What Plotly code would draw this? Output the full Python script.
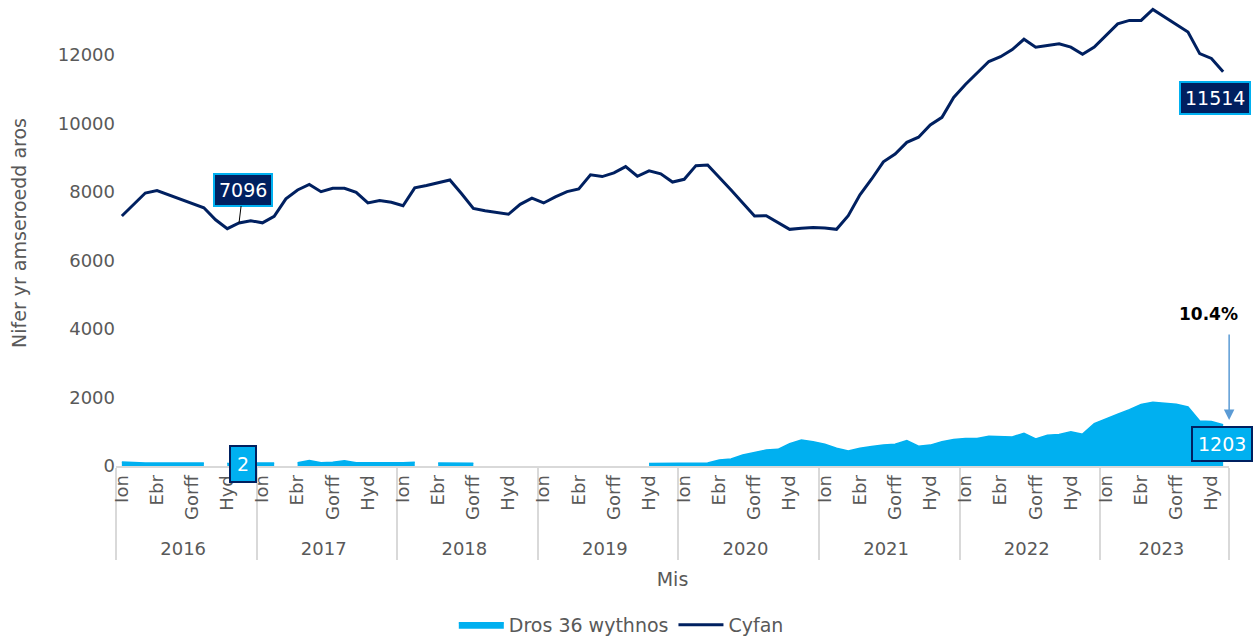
import plotly.graph_objects as go

years = ["2016", "2017", "2018", "2019", "2020", "2021", "2022", "2023"]
month_labels = ["Ion", "\u200b", "\u200b\u200b", "Ebr", "\u200b\u200b\u200b", "\u200b\u200b\u200b\u200b",
                "Gorff", "\u200b\u200b\u200b\u200b\u200b", "\u200b\u200b\u200b\u200b\u200b\u200b", "Hyd",
                "\u200b\u200b\u200b\u200b\u200b\u200b\u200b", "\u200b\u200b\u200b\u200b\u200b\u200b\u200b\u200b"]
n_months = 95  # Jan 2016 - Nov 2023

cyfan = [7300, 7640, 7970, 8040, 7910, 7780, 7650, 7540, 7190, 6930,
         7096, 7160, 7100, 7290, 7800, 8060, 8220, 8010, 8110, 8110,
         7990, 7680, 7750, 7700, 7600, 8120, 8190, 8280, 8350, 7950,
         7520, 7450, 7400, 7350, 7640, 7820, 7680, 7860, 8010, 8090,
         8500, 8450, 8560, 8740, 8460, 8620, 8530, 8290, 8370, 8770,
         8790, 8440, 8060, 7680, 7300, 7310, 7110, 6910, 6940, 6960,
         6950, 6910, 7310, 7920, 8380, 8880, 9110, 9450, 9600, 9960,
         10180, 10760, 11140, 11490, 11810, 11950, 12160, 12460, 12230, 12280,
         12330, 12230, 12020, 12230, 12570, 12910, 13010, 13010, 13330, 13110,
         12870, 12670, 12040, 11900, 11514]

dros36 = [120, 95, 90, 90, 88, 85, 85, 85, None,
          80, 2, 85, 90, 85, None,
          95, 160, 95, 110, 150, 95, 95, 90, 90, 95, 110, None,
          90, 85, 85, 80,
          None, None, None, None, None, None, None, None, None, None, None, None, None, None,
          75, 75, 75, 80, 85, 90, 175, 205, 320, 400,
          467, 487, 650, 760, 710, 634, 517, 440, 517, 566,
          614, 635, 745, 580, 610, 705, 775, 805, 805, 870,
          870, 850, 958, 792, 900, 920, 996, 930, 1240, 1384,
          1510, 1646, 1800, 1858, 1838, 1800, 1722, 1316, 1297, 1203]

x_year = [years[i // 12] for i in range(n_months)]
x_month = [month_labels[i % 12] for i in range(n_months)]

NAVY = "#002060"
CYAN = "#00B0F0"
FONT = "DejaVu Sans"
GREY = "#595959"
FS = 18

fig = go.Figure()

fig.add_trace(go.Scatter(
    x=[x_year, x_month], y=cyfan, name="Cyfan", legendrank=2,
    mode="lines", line=dict(color=NAVY, width=3),
))

runs, cur = [], []
for i, v in enumerate(dros36):
    if v is None:
        if cur:
            runs.append(cur)
        cur = []
    else:
        cur.append(i)
if cur:
    runs.append(cur)

for k, run in enumerate(runs):
    fig.add_trace(go.Scatter(
        x=[[x_year[i] for i in run], [x_month[i] for i in run]],
        y=[dros36[i] for i in run], name="Dros 36 wythnos",
        legendgroup="dros", showlegend=(k == 0), legendrank=1,
        mode="lines", fill="tozeroy", fillcolor=CYAN,
        line=dict(color=CYAN, width=1.5),
    ))

last = n_months - 1
fig.add_annotation(x=10, y=cyfan[10], text=str(cyfan[10]), showarrow=True,
                   ax=4, ay=-33, arrowhead=0, arrowwidth=1, arrowcolor="black",
                   bgcolor=NAVY, bordercolor=CYAN, borderwidth=2, borderpad=4,
                   font=dict(color="white", size=19, family=FONT))
fig.add_annotation(x=last, y=cyfan[last], text=str(cyfan[last]), showarrow=False,
                   xshift=-8, yshift=-26,
                   bgcolor=NAVY, bordercolor=CYAN, borderwidth=2, borderpad=4,
                   font=dict(color="white", size=19, family=FONT))
fig.add_annotation(x=10, y=dros36[10], text=str(dros36[10]), showarrow=False,
                   xshift=4, yshift=2,
                   bgcolor=CYAN, bordercolor=NAVY, borderwidth=2, borderpad=6,
                   font=dict(color="white", size=19, family=FONT))
fig.add_annotation(x=last, y=dros36[last], text=str(dros36[last]), showarrow=False,
                   xshift=-1, yshift=-19,
                   bgcolor=CYAN, bordercolor=NAVY, borderwidth=2, borderpad=5,
                   font=dict(color="white", size=19, family=FONT))
share = round(100 * dros36[last] / cyfan[last], 1)
fig.add_annotation(x=last, y=1340, text="", showarrow=True, xshift=6,
                   ax=0, ay=-87, arrowhead=2, arrowsize=1.4, arrowwidth=1.5,
                   arrowcolor="#5B9BD5")
fig.add_annotation(x=last, y=4440, text=f"<b>{share}%</b>", showarrow=False,
                   xshift=-15, font=dict(color="black", size=17, family=FONT))

fig.update_layout(
    width=1254, height=637,
    margin=dict(l=116, r=25, t=0, b=171, autoexpand=False),
    paper_bgcolor="white", plot_bgcolor="white",
    font=dict(family=FONT, size=FS, color=GREY),
    showlegend=True,
    legend=dict(orientation="h", x=0.454, xanchor="center", y=-0.341, yanchor="middle",
                font=dict(size=19, color=GREY), itemwidth=45),
)
fig.update_xaxes(
    type="multicategory", tickangle=-90, showgrid=False, automargin=False,
    range=[-0.5, n_months - 0.5], autorange=False,
    tickmode="linear", tick0=0, dtick=1,
    showline=True, linecolor="#d9d9d9", linewidth=2,
    showdividers=True, dividercolor="#d9d9d9", dividerwidth=2,
    ticks="", tickfont=dict(size=FS, color=GREY),
    title=dict(text="Mis", font=dict(size=19, color=GREY), standoff=15),
)
fig.update_yaxes(
    range=[0, 13606], showgrid=False, zeroline=False, showline=False, automargin=False,
    tickvals=[0, 2000, 4000, 6000, 8000, 10000, 12000], tickformat="d",
    tickfont=dict(size=FS, color=GREY), ticks="",
    title=dict(text="Nifer yr amseroedd aros", font=dict(size=19, color=GREY), standoff=26),
)

fig.write_html("out.html", config={"displayModeBar": False},
               post_script="document.body.style.margin='0';document.body.style.overflow='hidden';")
